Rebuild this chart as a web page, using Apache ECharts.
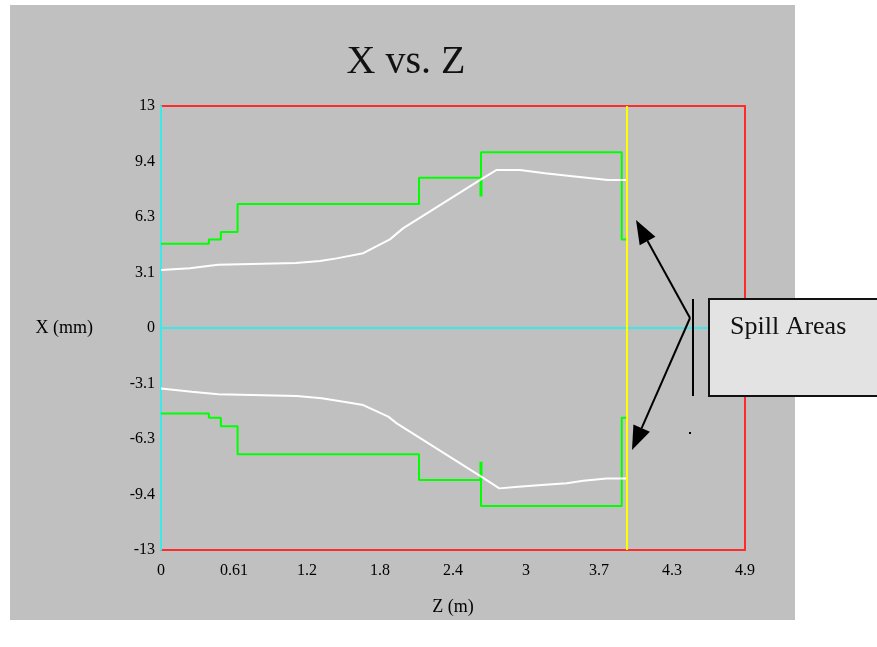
<!DOCTYPE html>
<html>
<head>
<meta charset="utf-8">
<script src="https://cdn.jsdelivr.net/npm/echarts@6/dist/echarts.min.js"></script>
<style>
html, body { margin: 0; padding: 0; background: #fff; }
#chart { width: 877px; height: 647px; }
</style>
</head>
<body>
<div id="chart"></div>
<script>
'use strict';

// tick labels as printed on the axes
var zTicks = ['0', '0.61', '1.2', '1.8', '2.4', '3', '3.7', '4.3', '4.9'];
var xTicks = ['-13', '-9.4', '-6.3', '-3.1', '0', '3.1', '6.3', '9.4', '13'];
var zStep = 0.61;
var xStep = 3.125;

// aperture (green), upper and lower
var apertureTop = [[0, 4.75], [0.40, 4.75], [0.40, 4.99], [0.50, 4.99], [0.50, 5.41], [0.64, 5.41],
    [0.64, 6.98], [2.156, 6.98], [2.156, 8.46], [2.674, 8.46], [2.674, 9.9], [3.85, 9.9], [3.85, 4.99], [3.894, 4.99]];
var apertureBottom = [[0, -4.82], [0.40, -4.82], [0.40, -5.05], [0.50, -5.05], [0.50, -5.53], [0.64, -5.53],
    [0.64, -7.11], [2.156, -7.11], [2.156, -8.56], [2.674, -8.56], [2.674, -10.02], [3.85, -10.02], [3.85, -5.05], [3.894, -5.05]];
var stubTop = [[2.674, 8.46], [2.674, 7.4]];
var stubBottom = [[2.674, -8.56], [2.674, -7.53]];

// beam envelope (white)
var beamTop = [[0, 3.27], [0.242, 3.36], [0.476, 3.56], [1.126, 3.66], [1.329, 3.77], [1.468, 3.92], [1.69, 4.21],
    [1.913, 4.99], [2.022, 5.61], [2.674, 8.37], [2.805, 8.9], [3.0, 8.9], [3.209, 8.71], [3.418, 8.56], [3.735, 8.33], [3.894, 8.33]];
var beamBottom = [[0, -3.4], [0.257, -3.59], [0.479, -3.73], [1.134, -3.83], [1.343, -3.96], [1.552, -4.18], [1.69, -4.34],
    [1.899, -4.99], [1.97, -5.37], [2.666, -8.33], [2.827, -9.03], [2.986, -8.94], [3.181, -8.84], [3.39, -8.74], [3.529, -8.6], [3.724, -8.48], [3.894, -8.48]];

var spillZ = 3.894;

var serif = 'Liberation Serif';

function lineSeries(data, color, width) {
    return {
        type: 'line',
        data: data,
        showSymbol: false,
        silent: true,
        animation: false,
        lineStyle: { color: color, width: width }
    };
}

//箭头
function arrow(x1, y1, x2, y2) {
    var dx = x2 - x1, dy = y2 - y1;
    var len = Math.sqrt(dx * dx + dy * dy);
    var ux = dx / len, uy = dy / len;
    var hl = 24, hw = 9;
    var bx = x2 - ux * hl, by = y2 - uy * hl;
    return [
        { type: 'line', z: 100, shape: { x1: x1, y1: y1, x2: bx, y2: by }, style: { stroke: '#000', lineWidth: 2 } },
        { type: 'polygon', z: 100, shape: { points: [[x2, y2], [bx - uy * hw, by + ux * hw], [bx + uy * hw, by - ux * hw]] }, style: { fill: '#000' } }
    ];
}

var myChart = echarts.init(document.getElementById('chart'));

var graphics = [
    { type: 'rect', z: -1, silent: true, shape: { x: 10, y: 5, width: 785, height: 615 }, style: { fill: '#c0c0c0' } },
    { type: 'rect', z: 100, shape: { x: 709, y: 299, width: 180, height: 97 }, style: { fill: '#e3e3e3', stroke: '#111', lineWidth: 2 } },
    { type: 'text', z: 101, style: { x: 730, y: 327, text: 'Spill Areas', font: '26px "Liberation Serif"', fill: '#111', verticalAlign: 'middle' } },
    { type: 'line', z: 100, shape: { x1: 693, y1: 299, x2: 693, y2: 396 }, style: { stroke: '#000', lineWidth: 2 } },
    { type: 'rect', z: 100, shape: { x: 689, y: 432, width: 2, height: 2 }, style: { fill: '#000' } }
].concat(arrow(690, 318, 636, 220)).concat(arrow(690, 318, 632, 450));

var option = {
    backgroundColor: '#fff',
    animation: false,
    title: {
        text: 'X vs. Z',
        left: 401,
        textAlign: 'center',
        top: 37,
        textStyle: { fontFamily: serif, fontSize: 40, fontWeight: 'normal', color: '#111' }
    },
    grid: {
        left: 161, right: 132, top: 106, bottom: 97,
        show: true,
        borderColor: '#ff2a2a',
        borderWidth: 2,
        backgroundColor: 'transparent'
    },
    xAxis: {
        type: 'value',
        min: 0,
        max: zStep * 8,
        interval: zStep,
        name: 'Z (m)',
        nameLocation: 'middle',
        nameGap: 48,
        nameTextStyle: { fontFamily: serif, fontSize: 18, color: '#000' },
        axisLine: { show: false, onZero: false },
        axisTick: { show: false },
        splitLine: { show: false },
        axisLabel: {
            margin: 13,
            fontFamily: serif,
            fontSize: 16,
            color: '#000',
            formatter: function (v) { return zTicks[Math.round(v / zStep)]; }
        }
    },
    yAxis: {
        type: 'value',
        min: -4 * xStep,
        max: 4 * xStep,
        interval: xStep,
        name: 'X (mm)',
        nameLocation: 'middle',
        nameRotate: 0,
        nameGap: 68,
        nameTextStyle: { fontFamily: serif, fontSize: 18, color: '#000', align: 'right' },
        axisLine: { show: true, onZero: false, lineStyle: { color: '#3ee8e8', width: 2 } },
        axisTick: { show: false },
        splitLine: { show: false },
        axisLabel: {
            margin: 6,
            fontFamily: serif,
            fontSize: 16,
            color: '#000',
            formatter: function (v) { return xTicks[Math.round(v / xStep) + 4]; }
        }
    },
    graphic: graphics,
    series: [
        {
            type: 'line',
            data: [],
            silent: true,
            markLine: {
                symbol: 'none',
                silent: true,
                label: { show: false },
                animation: false,
                data: [
                    { yAxis: 0, lineStyle: { color: '#3ee8e8', width: 2, type: 'solid' } },
                    { xAxis: spillZ, lineStyle: { color: '#ffff00', width: 2, type: 'solid' } }
                ]
            }
        },
        lineSeries(apertureTop, '#00ff00', 2),
        lineSeries(apertureBottom, '#00ff00', 2),
        lineSeries(stubTop, '#00ff00', 3),
        lineSeries(stubBottom, '#00ff00', 3),
        lineSeries(beamTop, '#ffffff', 2),
        lineSeries(beamBottom, '#ffffff', 2)
    ]
};

myChart.setOption(option);
</script>
</body>
</html>
